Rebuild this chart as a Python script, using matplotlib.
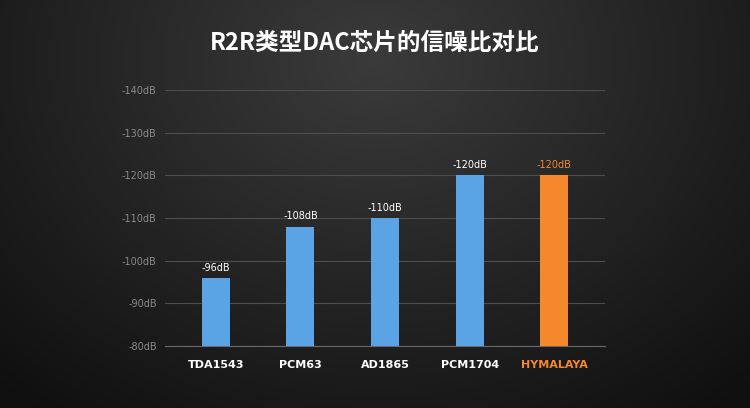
import matplotlib.pyplot as plt
from matplotlib import font_manager
import numpy as np

chips = ["TDA1543", "PCM63", "AD1865", "PCM1704", "HYMALAYA"]
snr_db = [96, 108, 110, 120, 120]
value_labels = ["-96dB", "-108dB", "-110dB", "-120dB", "-120dB"]
tick_vals = [80, 90, 100, 110, 120, 130, 140]
tick_labels = ["-80dB", "-90dB", "-100dB", "-110dB", "-120dB", "-130dB", "-140dB"]

BLUE = "#5aa3e4"
ORANGE = "#f5872c"
colors = [BLUE, BLUE, BLUE, BLUE, ORANGE]
text_colors = ["white", "white", "white", "white", ORANGE]

# find a CJK font file directly, fallback by name
cjk_files = [f for f in font_manager.findSystemFonts() if "CJK" in f]
bold_files = [f for f in cjk_files if "Bold" in f] or cjk_files
if bold_files:
    title_font = font_manager.FontProperties(fname=sorted(bold_files)[0], size=17, weight="bold")
else:
    title_font = font_manager.FontProperties(family="Noto Sans CJK SC", size=17, weight="bold")

fig = plt.figure(figsize=(7.5, 4.08), dpi=100)

# dark radial-ish gradient background
bg = fig.add_axes([0, 0, 1, 1])
yy, xx = np.mgrid[0:408, 0:750]
d = np.sqrt(((xx - 375) / 520.0) ** 2 + ((yy - 60) / 420.0) ** 2)
shade = np.clip(0.23 - 0.16 * d, 0.06, 0.25)
bg.imshow(np.dstack([shade] * 3), aspect="auto", extent=[0, 1, 0, 1])
bg.axis("off")

ax = fig.add_axes([0.22, 0.152, 0.587, 0.627])
ax.set_facecolor("none")
x = np.arange(len(chips))
ax.bar(x, [v - 80 for v in snr_db], bottom=80, width=0.33, color=colors, zorder=3)
for xi, v, lab, c in zip(x, snr_db, value_labels, text_colors):
    ax.text(xi, v + 1.2, lab, ha="center", va="bottom", color=c, fontsize=7)

ax.set_xlim(-0.6, len(chips) - 0.4)
ax.set_ylim(80, 140)
ax.set_yticks(tick_vals)
ax.set_yticklabels(tick_labels)
ax.tick_params(axis="y", length=0, colors="#8a8a8a", labelsize=7, pad=6)
ax.set_xticks(x)
ax.set_xticklabels(chips, fontsize=8, fontweight="bold")
for lbl, c in zip(ax.get_xticklabels(), text_colors):
    lbl.set_color(c)
ax.tick_params(axis="x", length=0, pad=10)
ax.grid(axis="y", color="#4e4e4e", linewidth=0.8, zorder=0)
for s in ["top", "right", "left"]:
    ax.spines[s].set_visible(False)
ax.spines["bottom"].set_color("#6a6a6a")

fig.text(0.5, 0.895, "R2R类型DAC芯片的信噪比对比", ha="center", va="center",
         color="white", fontproperties=title_font)

fig.savefig("out.png", dpi=100)
